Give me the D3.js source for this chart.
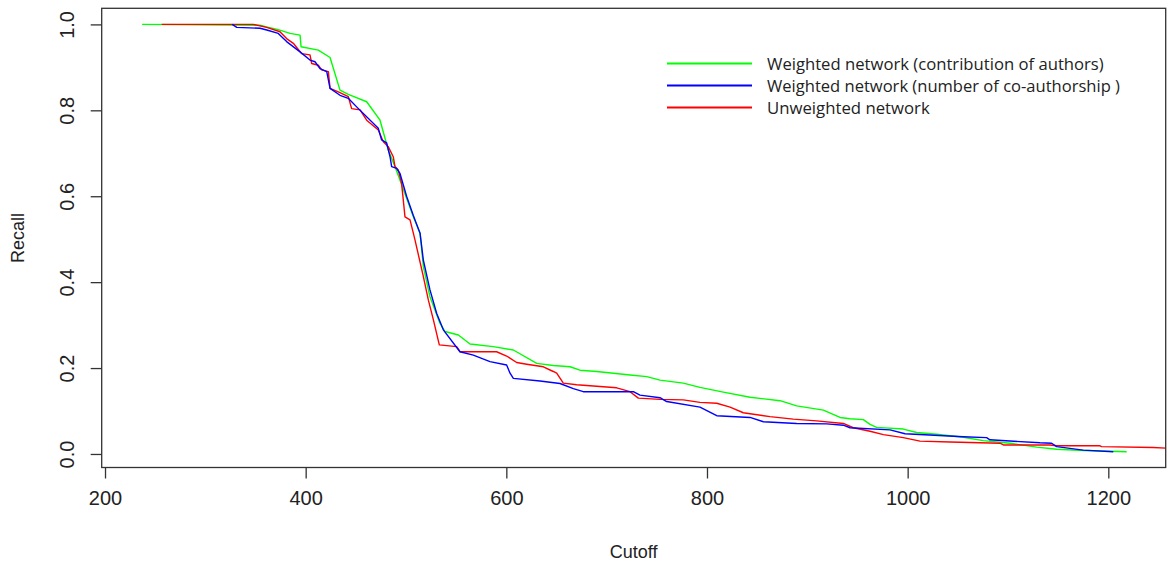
<!DOCTYPE html>
<html>
<head>
<meta charset="utf-8">
<script src="https://cdn.jsdelivr.net/npm/d3@7"></script>
<style>
  body { margin: 0; background: #fff; }
  text { font-family: "Liberation Sans", Arial, sans-serif; fill: #222; }
</style>
</head>
<body>
<svg id="chart" width="1167" height="568"></svg>
<script>
// values
var xTicks = [200, 400, 600, 800, 1000, 1200];
var yTicks = [0, 0.2, 0.4, 0.6, 0.8, 1.0];

var greenCutoff = [237, 354.5, 361, 372.7, 384.4, 394.4, 395.4, 412.6, 424.3, 434.2, 442.5, 460.8, 474.1, 482.4, 489, 500.6, 507.3, 514, 517.3, 523.9, 533.9, 538.9, 552.2, 563.8, 587, 607, 630.3, 646.8, 663.5, 673.4, 690, 706.7, 723.3, 740, 753.2, 776.4, 793, 816.3, 842.9, 872.8, 889.4, 916, 932.6, 942.5, 955.8, 962.5, 969.1, 995.7, 1009, 1029, 1055.5, 1075.4, 1102, 1128.6, 1148.5, 1175, 1218.3];
var greenRecall = [1.0, 0.998, 0.994, 0.988, 0.979, 0.975, 0.948, 0.940, 0.923, 0.847, 0.837, 0.820, 0.777, 0.707, 0.669, 0.595, 0.552, 0.514, 0.436, 0.366, 0.304, 0.285, 0.277, 0.256, 0.250, 0.242, 0.211, 0.206, 0.203, 0.195, 0.192, 0.188, 0.184, 0.180, 0.172, 0.165, 0.155, 0.144, 0.132, 0.124, 0.112, 0.102, 0.085, 0.082, 0.080, 0.069, 0.062, 0.058, 0.050, 0.046, 0.039, 0.031, 0.025, 0.016, 0.011, 0.008, 0.005];

var blueCutoff = [326.8, 331.3, 354.5, 361.2, 372.7, 381, 394.4, 404.3, 409.3, 414.3, 421, 424.3, 434.2, 442.5, 450.8, 472.4, 475.7, 480.7, 484.1, 485.7, 490.6, 494, 500.6, 507.3, 514, 517.3, 523.9, 530.6, 537.2, 553.8, 567.1, 583.7, 600.3, 603.7, 607, 633.6, 653.5, 666.8, 676.7, 726.6, 733.2, 753.2, 759.8, 793, 809.7, 842.9, 856.2, 889.4, 919.3, 935.9, 942.5, 982.4, 997.4, 1055.5, 1078.7, 1082, 1131.9, 1143.5, 1148.5, 1175, 1205];
var blueRecall = [1.0, 0.993, 0.991, 0.987, 0.979, 0.960, 0.936, 0.917, 0.913, 0.897, 0.890, 0.851, 0.835, 0.828, 0.808, 0.758, 0.731, 0.724, 0.692, 0.669, 0.665, 0.653, 0.600, 0.555, 0.514, 0.451, 0.382, 0.327, 0.289, 0.238, 0.230, 0.215, 0.207, 0.188, 0.176, 0.170, 0.164, 0.152, 0.145, 0.145, 0.137, 0.131, 0.122, 0.109, 0.089, 0.085, 0.075, 0.071, 0.070, 0.067, 0.061, 0.056, 0.047, 0.040, 0.038, 0.033, 0.026, 0.025, 0.017, 0.009, 0.005];

var redCutoff = [256.5, 347.9, 361.2, 374.4, 381, 387.7, 396, 404.3, 406, 412.6, 416, 422.6, 424.3, 432.5, 442.5, 445.8, 454.2, 460.8, 472.4, 477.4, 482.4, 487.3, 489, 492.3, 495.6, 499, 504, 507.3, 509, 517.3, 522.3, 527.3, 533.2, 550.5, 553.8, 590.3, 600.3, 610.3, 620.3, 636.9, 646.8, 650.2, 656.8, 670.1, 710, 723.3, 731.6, 753.2, 776.4, 793, 809.7, 823, 836.2, 862.8, 886, 909.3, 935.9, 945.8, 962.5, 975.8, 995.7, 1012.3, 1042.2, 1092, 1095.4, 1141.9, 1148.5, 1191.7, 1193.3, 1244.8, 1262];
var redRecall = [1.0, 1.0, 0.993, 0.983, 0.967, 0.956, 0.932, 0.929, 0.909, 0.905, 0.894, 0.890, 0.851, 0.843, 0.832, 0.804, 0.801, 0.777, 0.754, 0.727, 0.715, 0.692, 0.669, 0.661, 0.630, 0.552, 0.545, 0.514, 0.498, 0.413, 0.358, 0.312, 0.254, 0.250, 0.238, 0.238, 0.228, 0.213, 0.209, 0.203, 0.192, 0.188, 0.165, 0.161, 0.154, 0.145, 0.130, 0.127, 0.126, 0.120, 0.118, 0.109, 0.096, 0.087, 0.081, 0.077, 0.071, 0.061, 0.053, 0.045, 0.038, 0.030, 0.028, 0.025, 0.021, 0.021, 0.019, 0.019, 0.017, 0.015, 0.013];

var seriesNames = ["Weighted network (contribution of authors)", "Weighted network (number of co-authorship )", "Unweighted network"];
var seriesColors = ["#00ff00", "#0000ff", "#ff0000"];

var series = [
    {name: seriesNames[0], color: seriesColors[0], x: greenCutoff, y: greenRecall},
    {name: seriesNames[1], color: seriesColors[1], x: blueCutoff, y: blueRecall},
    {name: seriesNames[2], color: seriesColors[2], x: redCutoff, y: redRecall}
];

var plotL = 101.7, plotR = 1165.7, plotT = 8.3, plotB = 467.5;

var x = d3.scaleLinear().domain([196.7, 1257.2]).range([plotL, plotR]);
var y = d3.scaleLinear().domain([-0.0315, 1.0375]).range([plotB, plotT]);

var svg = d3.select("#chart");

svg.append("defs").append("clipPath")
    .attr("id", "plotclip")
    .append("rect")
    .attr("x", plotL).attr("y", plotT)
    .attr("width", plotR - plotL).attr("height", plotB - plotT);

var line = d3.line()
    .x(function(d) { return x(d[0]); })
    .y(function(d) { return y(d[1]); });

var lines = svg.append("g").attr("clip-path", "url(#plotclip)");
// red first so the weighted curves sit on top, like the picture
[series[0], series[2], series[1]].forEach(function(s) {
    lines.append("path")
        .datum(d3.zip(s.x, s.y))
        .attr("d", line)
        .attr("fill", "none")
        .attr("stroke", s.color)
        .attr("stroke-width", 1.4)
        .attr("stroke-linejoin", "round");
});

// plot frame
svg.append("rect")
    .attr("x", plotL).attr("y", plotT)
    .attr("width", plotR - plotL).attr("height", plotB - plotT)
    .attr("fill", "none")
    .attr("stroke", "#333")
    .attr("stroke-width", 1.3);

// x axis
var xAxis = d3.axisBottom(x).tickValues(xTicks).tickSize(11).tickPadding(12).tickFormat(d3.format("d"));
var gx = svg.append("g")
    .attr("transform", "translate(0," + plotB + ")")
    .call(xAxis);
gx.select(".domain").remove();
gx.selectAll("line").attr("stroke", "#333").attr("stroke-width", 1.3);
gx.selectAll("text")
    .style("font-size", "20px")
    .attr("fill", "#222");

// y axis
var yAxis = d3.axisLeft(y).tickValues(yTicks).tickSize(11).tickFormat(d3.format(".1f"));
var gy = svg.append("g")
    .attr("transform", "translate(" + plotL + ",0)")
    .call(yAxis);
gy.select(".domain").remove();
gy.selectAll("line").attr("stroke", "#333").attr("stroke-width", 1.3);
gy.selectAll("text")
    .attr("x", null).attr("dy", null)
    .attr("transform", "translate(-28,0) rotate(-90)")
    .attr("text-anchor", "middle")
    .style("font-size", "20px")
    .attr("fill", "#222");

// axis titles
svg.append("text")
    .attr("x", (plotL + plotR) / 2)
    .attr("y", 558)
    .attr("text-anchor", "middle")
    .style("font-size", "18px")
    .text("Cutoff");

svg.append("text")
    .attr("transform", "translate(24," + (plotT + plotB) / 2 + ") rotate(-90)")
    .attr("text-anchor", "middle")
    .style("font-size", "18px")
    .text("Recall");

// legend
var legendWidths = [336.7, 353, 162.7];
var legend = svg.append("g");
series.forEach(function(s, i) {
    var ly = 63.5 + i * 22;
    legend.append("line")
        .attr("x1", 667).attr("x2", 752)
        .attr("y1", ly).attr("y2", ly)
        .attr("stroke", s.color)
        .attr("stroke-width", 2);
    legend.append("text")
        .attr("x", 767)
        .attr("y", ly + 6)
        .attr("textLength", legendWidths[i])
        .attr("lengthAdjust", "spacingAndGlyphs")
        .style("font-family", "'Open Sans', sans-serif")
        .style("font-size", "17px")
        .attr("fill", "#333")
        .text(s.name);
});
</script>
</body>
</html>
